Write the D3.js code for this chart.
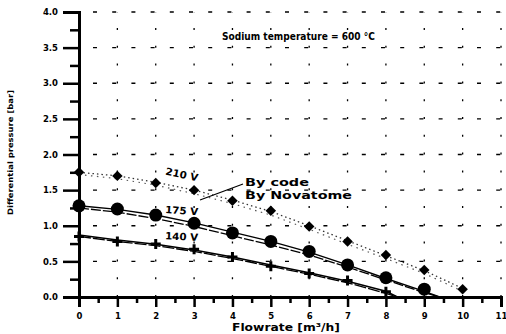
<!DOCTYPE html>
<html>
<head>
<meta charset="utf-8">
<script src="https://d3js.org/d3.v7.min.js"></script>
<style>
  body { margin: 0; background: #fff; }
  text { font-family: "DejaVu Sans", sans-serif; font-weight: bold; fill: #000; }
</style>
</head>
<body>
<div id="chart"></div>
<script>
        // Data
        const flow = [0, 1, 2, 3, 4, 5, 6, 7, 8, 9, 10];
        const p210 = [1.75, 1.70, 1.60, 1.50, 1.35, 1.21, 0.99, 0.78, 0.59, 0.38, 0.11];
        const p175 = [1.28, 1.235, 1.15, 1.035, 0.90, 0.78, 0.64, 0.45, 0.27, 0.11];
        const p140 = [0.85, 0.78, 0.745, 0.67, 0.56, 0.43, 0.33, 0.23, 0.075];

        // calculated curves ("By code" / "By Novatome")
        const code210 = [1.75, 1.70, 1.61, 1.50, 1.36, 1.20, 1.00, 0.79, 0.58, 0.37, 0.12];
        const nova210 = [1.72, 1.66, 1.57, 1.45, 1.31, 1.15, 0.95, 0.74, 0.54, 0.33, 0.08];
        const code175 = [1.28, 1.23, 1.15, 1.04, 0.91, 0.78, 0.63, 0.45, 0.26, 0.08, 0.0];
        const nova175 = [1.25, 1.19, 1.10, 0.99, 0.86, 0.73, 0.59, 0.42, 0.24, 0.06, 0.0];
        const code140 = [0.87, 0.80, 0.74, 0.66, 0.56, 0.45, 0.34, 0.22, 0.08, 0.0];
        const nova140 = [0.85, 0.78, 0.72, 0.64, 0.54, 0.43, 0.32, 0.20, 0.05, 0.0];
        const curveX175 = [0, 1, 2, 3, 4, 5, 6, 7, 8, 9, 9.4];
        const curveX140 = [0, 1, 2, 3, 4, 5, 6, 7, 8, 8.3];

        const xTicks = d3.range(0, 12);
        const yTicks = d3.range(0, 4.01, 0.5);

        const svg = d3.select("#chart").append("svg")
            .attr("width", 506)
            .attr("height", 334);

        const x = d3.scaleLinear().domain([0, 11]).range([79, 501]);
        const y = d3.scaleLinear().domain([0, 4]).range([297, 12]);

        // dashed grid
        svg.append("g").selectAll("line")
            .data(yTicks.filter(d => d > 0))
            .join("line")
            .attr("x1", x(0) + 14).attr("x2", x(11))
            .attr("y1", d => y(d)).attr("y2", d => y(d))
            .attr("stroke", "#000").attr("stroke-width", 1.3)
            .attr("stroke-dasharray", "4,15.2");
        svg.append("g").selectAll("line")
            .data(xTicks.filter(d => d > 0))
            .join("line")
            .attr("x1", d => x(d)).attr("x2", d => x(d))
            .attr("y1", y(0)).attr("y2", y(4))
            .attr("stroke", "#000").attr("stroke-width", 1.3)
            .attr("stroke-dasharray", "2,15.8");

        // axes
        svg.append("g")
            .attr("transform", `translate(${x(0)},0)`)
            .call(d3.axisLeft(y).tickValues(yTicks).tickSize(16).tickPadding(5).tickFormat(d3.format(".1f")));
        svg.append("g")
            .attr("transform", `translate(${x(0)},0)`)
            .call(d3.axisLeft(y).tickValues(d3.range(0.25, 4, 0.5)).tickSize(9).tickFormat(""))
            .call(g => g.select(".domain").remove());
        svg.append("g")
            .attr("transform", `translate(0,${y(0)})`)
            .call(d3.axisBottom(x).tickValues(xTicks).tickSize(10).tickPadding(6).tickFormat(d3.format("d")));
        svg.append("g")
            .attr("transform", `translate(0,${y(0)})`)
            .call(d3.axisBottom(x).tickValues(d3.range(0.5, 11, 1)).tickSize(6).tickFormat(""))
            .call(g => g.select(".domain").remove());

        svg.selectAll(".domain").attr("stroke-width", 3).attr("stroke", "#000");
        svg.selectAll(".tick line").attr("stroke-width", 2.5).attr("stroke", "#000");
        svg.selectAll(".tick text")
            .style("font-family", "'DejaVu Sans', sans-serif")
            .style("font-size", "8.5px").style("font-weight", "bold");

        // axis titles
        svg.append("text")
            .attr("x", 232).attr("y", 331)
            .attr("textLength", 108).attr("lengthAdjust", "spacingAndGlyphs")
            .style("font-size", "10.5px")
            .text("Flowrate [m³/h]");
        svg.append("text")
            .attr("transform", `translate(13,215) rotate(-90)`)
            .attr("textLength", 125).attr("lengthAdjust", "spacingAndGlyphs")
            .style("font-size", "7.5px")
            .text("Differential pressure [bar]");

        svg.append("text")
            .attr("x", 222).attr("y", 40)
            .attr("textLength", 153).attr("lengthAdjust", "spacingAndGlyphs")
            .style("font-size", "10.5px")
            .text("Sodium  temperature = 600 °C");

        // curves
        const line = (xs, ys) => d3.line().x((d, i) => x(xs[i])).y(d => y(d))(ys);

        const curves = [
            { xs: flow, ys: code210, dash: "1.5,3", w: 1.3, col: "#333" },
            { xs: flow, ys: nova210, dash: "1.5,4.5", w: 1.2, col: "#555" },
            { xs: curveX175, ys: code175, dash: null, w: 1.4, col: "#000" },
            { xs: curveX175, ys: nova175, dash: "10,2", w: 1.3, col: "#000" },
            { xs: curveX140, ys: code140, dash: null, w: 1.5, col: "#000" },
            { xs: curveX140, ys: nova140, dash: "12,2", w: 1.3, col: "#000" }
        ];
        svg.append("g").selectAll("path")
            .data(curves)
            .join("path")
            .attr("d", d => line(d.xs, d.ys))
            .attr("fill", "none")
            .attr("stroke", d => d.col)
            .attr("stroke-width", d => d.w)
            .attr("stroke-dasharray", d => d.dash);

        // markers
        svg.append("g").selectAll("path")
            .data(p210)
            .join("path")
            .attr("transform", (d, i) => `translate(${x(flow[i])},${y(d)})`)
            .attr("d", d3.symbol(d3.symbolDiamond2, 70))
            .attr("fill", "#000");
        svg.append("g").selectAll("circle")
            .data(p175)
            .join("circle")
            .attr("cx", (d, i) => x(flow[i]))
            .attr("cy", d => y(d))
            .attr("r", 6.5)
            .attr("fill", "#000");
        svg.append("g").selectAll("path")
            .data(p140)
            .join("path")
            .attr("transform", (d, i) => `translate(${x(flow[i])},${y(d)})`)
            .attr("d", "M-5,0H5M0,-5V5")
            .attr("stroke", "#000")
            .attr("stroke-width", 3);

        // curve labels
        const labels = [
            { t: "210 V", fx: 2.24, fy: 1.72, r: 12 },
            { t: "175 V", fx: 2.24, fy: 1.18, r: 4 },
            { t: "140 V", fx: 2.24, fy: 0.81, r: 3 }
        ];
        svg.append("g").selectAll("text")
            .data(labels)
            .join("text")
            .attr("transform", d => `translate(${x(d.fx)},${y(d.fy)}) rotate(${d.r})`)
            .attr("textLength", 33).attr("lengthAdjust", "spacingAndGlyphs")
            .style("font-size", "10px")
            .text(d => d.t);

        svg.append("text")
            .attr("x", 245).attr("y", 186)
            .attr("textLength", 64).attr("lengthAdjust", "spacingAndGlyphs")
            .style("font-size", "10px")
            .text("By code");
        svg.append("text")
            .attr("x", 245).attr("y", 198.5)
            .attr("textLength", 107).attr("lengthAdjust", "spacingAndGlyphs")
            .style("font-size", "10px")
            .text("By Novatome");
        svg.append("line")
            .attr("x1", 243).attr("y1", 184)
            .attr("x2", 200).attr("y2", 200)
            .attr("stroke", "#000").attr("stroke-width", 1.2);
</script>
</body>
</html>
